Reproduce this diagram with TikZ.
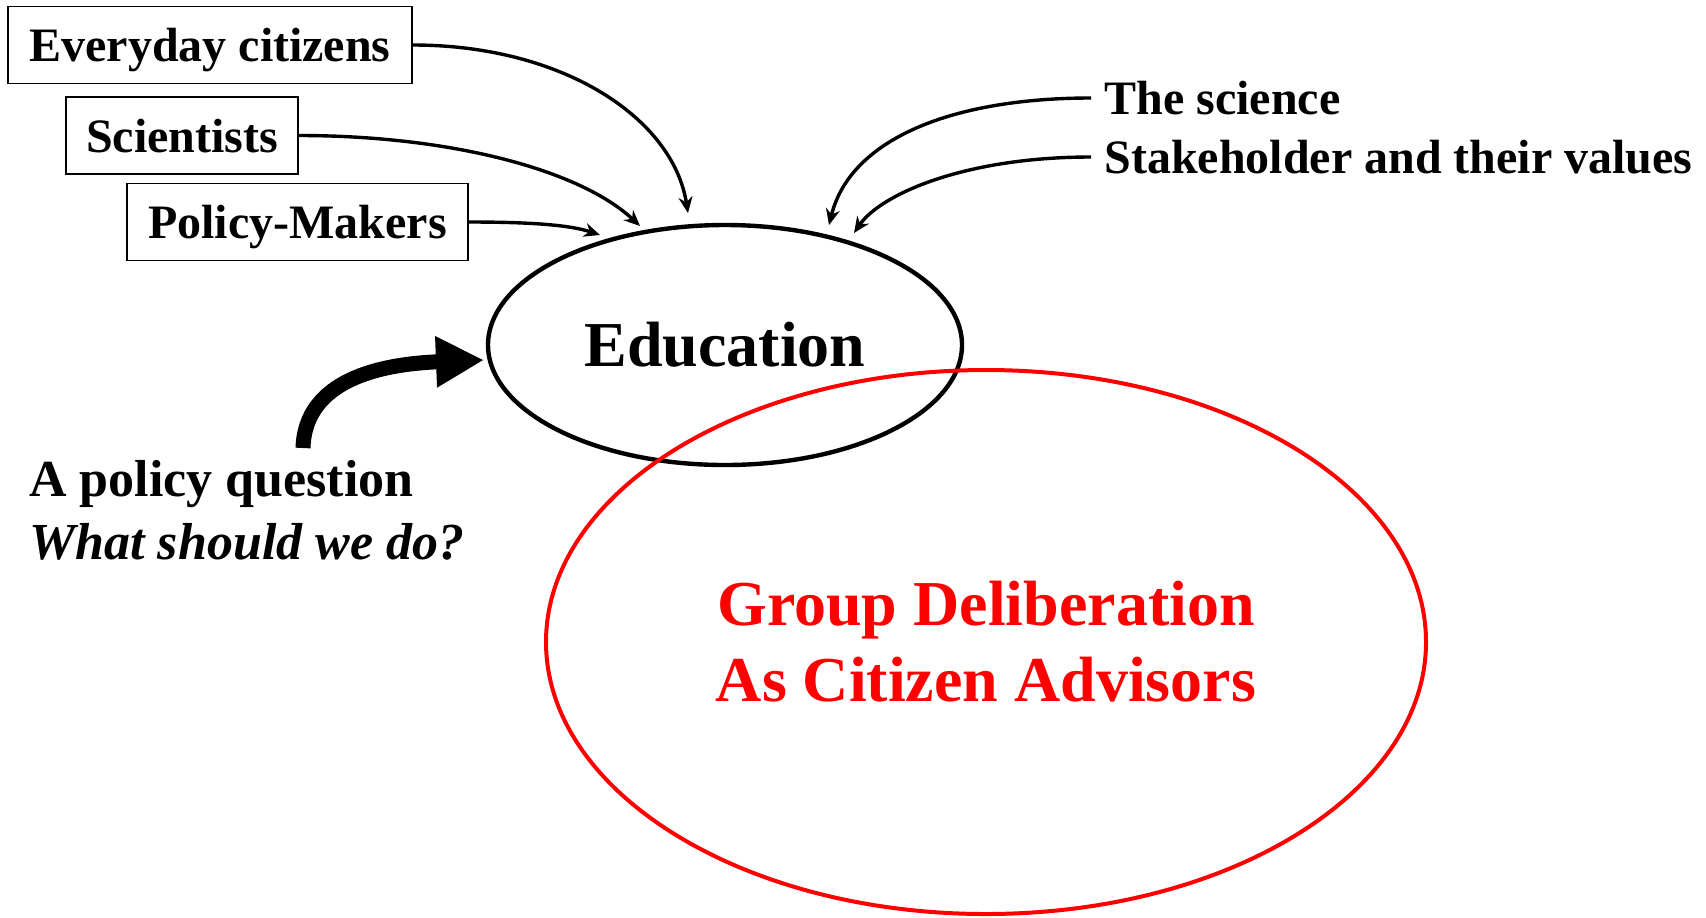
\documentclass[tikz,border=0pt]{standalone}
\usepackage{fontspec}
\setmainfont{Liberation Serif}
\usetikzlibrary{arrows.meta,shapes.geometric}
\begin{document}
\begin{tikzpicture}[x=0.5pt,y=-0.5pt,
  box/.style={draw,line width=0.8pt,inner sep=0pt,minimum height=38.5pt,text depth=0pt,font=\fontsize{24}{28}\selectfont\bfseries},
  lbl/.style={anchor=west,inner xsep=6.5pt,inner ysep=0pt,font=\fontsize{24}{28}\selectfont\bfseries},
  thinarrow/.style={line width=1.7pt,-{Stealth[length=8pt,width=7pt]}},
  thickarrow/.style={line width=7.5pt,-{Triangle[length=24pt,width=24pt]}},
]
\useasboundingbox (0,0) rectangle (1706,917);
\node[box,minimum width=202pt] (ev) at (210,45) {Everyday citizens};
\node[box,minimum width=116pt] (sc) at (182,135.5) {Scientists};
\node[box,minimum width=170.5pt] (pm) at (297.5,222) {Policy-Makers};
\node[lbl] (ts) at (1091,98) {The science};
\node[lbl] (sh) at (1091,157) {Stakeholder and their values};
\node[lbl,font=\fontsize{26}{30}\selectfont\bfseries] (pq) at (16,484) {A policy question};
\node[lbl,font=\fontsize{26}{30}\selectfont\bfseries\itshape] (wq) at (16,542) {What should we do?};
\node[ellipse,draw,line width=2.2pt,minimum width=237pt,minimum height=120pt,inner sep=0pt,font=\fontsize{32}{38}\selectfont\bfseries] (edu) at (725,345) {Education};
\node[ellipse,draw=red,line width=2pt,minimum width=440pt,minimum height=272pt,inner sep=0pt,text=red,align=center,font=\fontsize{32}{38}\selectfont\bfseries] (grp) at (986,642) {Group Deliberation\\As Citizen Advisors};
\coordinate (t1) at (688,213);
\coordinate (t2) at (640,226);
\coordinate (t3) at (600,235);
\coordinate (t4) at (829,225);
\coordinate (t5) at (854,233);
\coordinate (t6) at (484,360);
\coordinate (qs) at (303,448);
\draw[thinarrow] (ev.east) .. controls +(150,0) and +(-15,-95) .. (t1);
\draw[thinarrow] (sc.east) .. controls +(152,0) and +(-60,-56) .. (t2);
\draw[thinarrow] (pm.east) .. controls +(62,0) and +(-30,-10) .. (t3);
\draw[thinarrow] (ts.west) .. controls +(-141,0) and +(21,-85) .. (t4);
\draw[thinarrow] (sh.west) .. controls +(-128,0) and +(26,-38) .. (t5);
\draw[thickarrow] (qs) .. controls (305,380) and (380,364) .. (t6);
\end{tikzpicture}
\end{document}
